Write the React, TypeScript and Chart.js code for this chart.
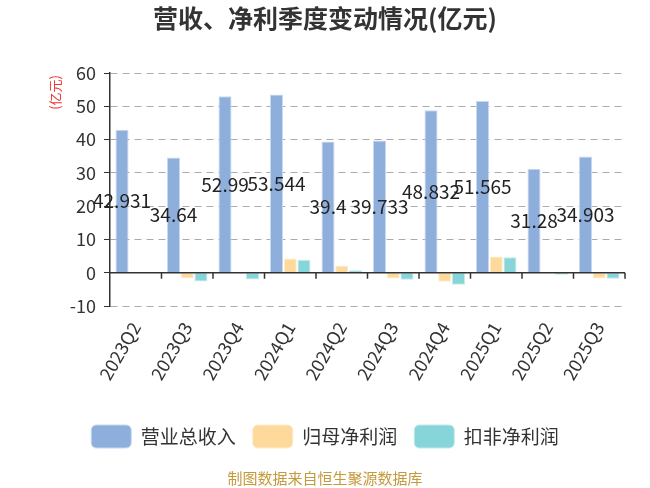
import { useEffect, useRef } from "react";
import { Chart, registerables } from "chart.js";

Chart.register(...registerables);

const quarters = [
  "2023Q2", "2023Q3", "2023Q4", "2024Q1", "2024Q2",
  "2024Q3", "2024Q4", "2025Q1", "2025Q2", "2025Q3",
];
const revenue = [42.931, 34.64, 52.99, 53.544, 39.4, 39.733, 48.832, 51.565, 31.28, 34.903];
const netProfit = [0.3, -1.7, 0.2, 4.3, 2.2, -1.7, -2.7, 4.9, 0.1, -1.7];
const deductedProfit = [0.3, -2.6, -2.0, 3.9, 0.8, -2.1, -3.6, 4.7, -0.6, -1.8];
const revenueLabels = ["42.931", "34.64", "52.99", "53.544", "39.4", "39.733", "48.832", "51.565", "31.28", "34.903"];

const FONT = '"Noto Sans CJK SC", "Noto Sans", sans-serif';

// value labels in the middle of the revenue bars
const barLabels = {
  id: "barLabels",
  afterDatasetsDraw(chart: Chart) {
    const { ctx } = chart;
    const meta = chart.getDatasetMeta(0);
    ctx.save();
    ctx.font = `19px ${FONT}`;
    ctx.fillStyle = "#222";
    ctx.textAlign = "center";
    ctx.textBaseline = "middle";
    meta.data.forEach((bar: any, i) => {
      ctx.fillText(revenueLabels[i], bar.x, (bar.y + bar.base) / 2);
    });
    ctx.restore();
  },
};

// x axis line drawn at zero, with ticks between categories; unit label on the left
const zeroAxis = {
  id: "zeroAxis",
  afterDatasetsDraw(chart: Chart) {
    const { ctx, chartArea } = chart;
    const y0 = chart.scales.y.getPixelForValue(0);
    const n = quarters.length;
    const w = (chartArea.right - chartArea.left) / n;
    ctx.save();
    ctx.strokeStyle = "#333";
    ctx.lineWidth = 1.5;
    ctx.beginPath();
    ctx.moveTo(chartArea.left, y0);
    ctx.lineTo(chartArea.right, y0);
    for (let i = 1; i <= n; i++) {
      const x = chartArea.left + i * w;
      ctx.moveTo(x, y0);
      ctx.lineTo(x, y0 + 6);
    }
    ctx.stroke();

    ctx.translate(55, chartArea.top + 2);
    ctx.rotate(-Math.PI / 2);
    ctx.font = `13px ${FONT}`;
    ctx.fillStyle = "#e33";
    ctx.textAlign = "right";
    ctx.textBaseline = "middle";
    ctx.fillText("(亿元)", 0, 0);
    ctx.restore();
  },
};

export default function App() {
  const canvasRef = useRef<HTMLCanvasElement | null>(null);

  useEffect(() => {
    if (!canvasRef.current) return;
    const chart = new Chart(canvasRef.current, {
      type: "bar",
      data: {
        labels: quarters,
        datasets: [
          {
            label: "营业总收入",
            data: revenue,
            backgroundColor: "#8eaedb",
            borderColor: "#c9d8ee",
            borderWidth: 1,
          },
          {
            label: "归母净利润",
            data: netProfit,
            backgroundColor: "#fdd99b",
            borderColor: "#feeccb",
            borderWidth: 1,
          },
          {
            label: "扣非净利润",
            data: deductedProfit,
            backgroundColor: "#86d5d8",
            borderColor: "#c3eaec",
            borderWidth: 1,
          },
        ],
      },
      options: {
        responsive: true,
        maintainAspectRatio: false,
        animation: false,
        layout: { padding: { left: 25, right: 25, top: 0, bottom: 0 } },
        datasets: {
          bar: { categoryPercentage: 0.8, barPercentage: 0.95 },
        },
        plugins: {
          title: {
            display: true,
            text: "营收、净利季度变动情况(亿元)",
            color: "#333",
            font: { family: FONT, size: 25, weight: "bold" },
            padding: { top: 3, bottom: 40 },
          },
          subtitle: {
            display: true,
            position: "bottom",
            text: "制图数据来自恒生聚源数据库",
            color: "#c49a3c",
            font: { family: FONT, size: 15 },
            padding: { top: 11, bottom: 1 },
          },
          legend: {
            position: "bottom",
            title: {
              display: true,
              text: "",
              font: { size: 1 },
              padding: { top: 10, bottom: 9 },
            },
            labels: {
              boxWidth: 40,
              boxHeight: 23,
              useBorderRadius: true,
              borderRadius: 5,
              color: "#333",
              padding: 17,
              font: { family: FONT, size: 19 },
            },
          },
          tooltip: { intersect: false, mode: "index" },
        },
        scales: {
          x: {
            grid: { display: false },
            border: { display: false },
            ticks: {
              color: "#333",
              font: { family: FONT, size: 18 },
              minRotation: 60,
              maxRotation: 60,
              padding: 4,
            },
          },
          y: {
            min: -10,
            max: 60,
            afterFit(scale: any) {
              scale.width = 85;
            },
            ticks: {
              stepSize: 10,
              color: "#333",
              font: { family: FONT, size: 18 },
              padding: 8,
            },
            grid: {
              color: "#aaa",
              tickColor: "#333",
              tickLength: 6,
              lineWidth: 1,
            },
            border: { color: "#333", width: 1.5, dash: [7, 5] },
          },
        },
      },
      plugins: [barLabels, zeroAxis],
    });
    return () => chart.destroy();
  }, []);

  return (
    <div style={{ position: "fixed", left: 0, top: 0, width: 650, height: 488 }}>
      <canvas ref={canvasRef} />
    </div>
  );
}
